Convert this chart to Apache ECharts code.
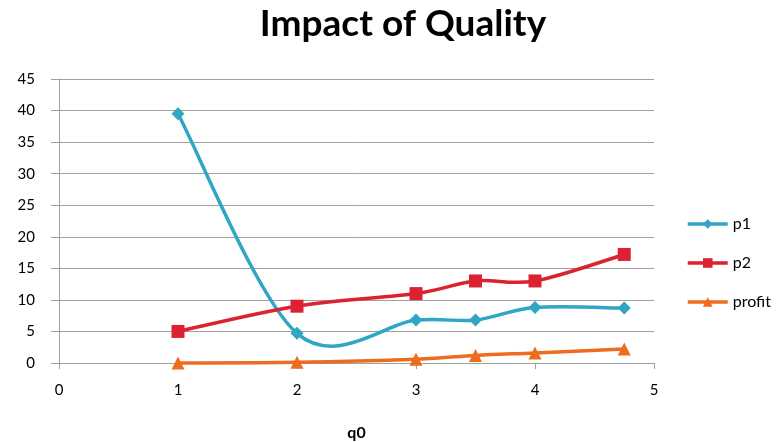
<!DOCTYPE html>
<html>
<head>
<meta charset="utf-8">
<script src="https://cdn.jsdelivr.net/npm/echarts@6/dist/echarts.min.js"></script>
<style>
  html, body { margin: 0; padding: 0; background: #fff; }
  #chart { width: 784px; height: 442px; }
</style>
</head>
<body>
<div id="chart"></div>
<script>
// q0 positions and series values
const q0 = [1, 2, 3, 3.5, 4, 4.75];
const p1 = [39.5, 4.7, 6.8, 6.8, 8.8, 8.7];
const p2 = [5.0, 9.0, 11.0, 13.0, 13.0, 17.2];
const profit = [0, 0.1, 0.6, 1.2, 1.6, 2.2];

const colors = { p1: '#2ea6c4', p2: '#dc2230', profit: '#ee6c1e' };
const pairs = vals => q0.map((x, i) => [x, vals[i]]);
const font = 'Lato, "Open Sans", sans-serif';
const LW = 3.5;

// Catmull-Rom style smoothed segment between point i and i+1 (in pixel space)
function smoothSegment(vals, color) {
  return function (params, api) {
    const i = params.dataIndex;
    if (i >= vals.length - 1) return null;
    const P = j => {
      const k = Math.max(0, Math.min(vals.length - 1, j));
      return api.coord([q0[k], vals[k]]);
    };
    const p0 = P(i - 1), a = P(i), b = P(i + 1), p3 = P(i + 2);
    const t = 1 / 6;
    const c1 = [a[0] + (b[0] - p0[0]) * t, a[1] + (b[1] - p0[1]) * t];
    const c2 = [b[0] - (p3[0] - a[0]) * t, b[1] - (p3[1] - a[1]) * t];
    return {
      type: 'bezierCurve',
      shape: { x1: a[0], y1: a[1], x2: b[0], y2: b[1],
               cpx1: c1[0], cpy1: c1[1], cpx2: c2[0], cpy2: c2[1] },
      style: { stroke: color, fill: null, lineWidth: LW, lineCap: 'round' }
    };
  };
}

function curveSeries(vals, color) {
  return {
    type: 'custom', data: pairs(vals), encode: { x: 0, y: 1 },
    renderItem: smoothSegment(vals, color), z: 1, silent: true
  };
}

function markerSeries(name, vals, symbol, size) {
  return {
    name, type: 'line', data: pairs(vals),
    symbol, symbolSize: size, z: 3,
    itemStyle: { color: colors[name] },
    lineStyle: { width: LW, opacity: 0 }
  };
}

const legendItem = name => ({
  name, lineStyle: { color: colors[name], width: LW, opacity: 1 }
});

const chart = echarts.init(document.getElementById('chart'));
chart.setOption({
  animation: false,
  title: {
    text: 'Impact of Quality',
    left: 398, top: 1, textAlign: 'center',
    textStyle: { fontFamily: font, fontSize: 37, fontWeight: 'bold', color: '#000' }
  },
  legend: {
    orient: 'vertical',
    left: 681, top: 211,
    itemWidth: 40, itemHeight: 12, itemGap: 23,
    textStyle: { fontFamily: font, fontSize: 16, color: '#000' },
    data: ['p1', 'p2', 'profit'].map(legendItem)
  },
  grid: { left: 59, right: 130, top: 79, bottom: 79, outerBoundsMode: 'none' },
  xAxis: {
    type: 'value', min: 0, max: 5, interval: 1,
    name: 'q0', nameLocation: 'middle', nameGap: 62,
    nameTextStyle: { fontFamily: font, fontSize: 16, fontWeight: 'bold', color: '#000' },
    axisLine: { show: true, lineStyle: { color: '#a0a0a0' } },
    axisTick: { show: true, length: 6, lineStyle: { color: '#a0a0a0' } },
    axisLabel: { fontFamily: font, fontSize: 15, color: '#000', margin: 20 },
    splitLine: { show: false }
  },
  yAxis: {
    type: 'value', min: 0, max: 45, interval: 5,
    axisLine: { show: true, onZero: false, lineStyle: { color: '#a0a0a0' } },
    axisTick: { show: true, length: 8, lineStyle: { color: '#a0a0a0' } },
    axisLabel: { fontFamily: font, fontSize: 15, color: '#000', margin: 24 },
    splitLine: { lineStyle: { color: '#a0a0a0' } }
  },
  series: [
    curveSeries(p1, colors.p1),
    curveSeries(p2, colors.p2),
    curveSeries(profit, colors.profit),
    markerSeries('p1', p1, 'diamond', 13),
    markerSeries('p2', p2, 'rect', 13),
    markerSeries('profit', profit, 'triangle', 13)
  ]
});
</script>
</body>
</html>
